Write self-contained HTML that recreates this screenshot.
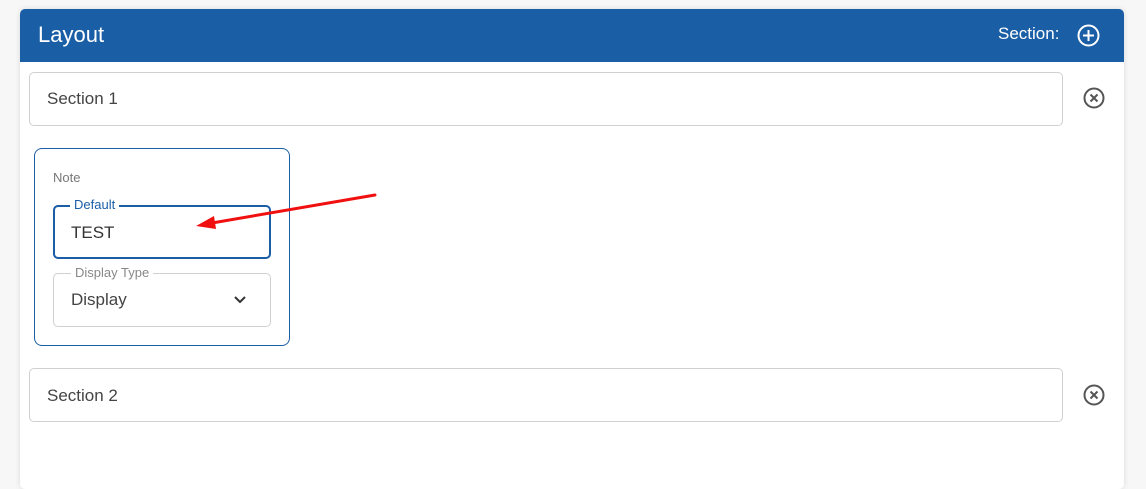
<!DOCTYPE html>
<html><head><style>
*{box-sizing:border-box;margin:0;padding:0}
body{width:1146px;height:473px;background:#f7f7f7;font-family:"Liberation Sans",sans-serif;position:relative;overflow:hidden}
.card{position:absolute;left:20px;top:9px;width:1104px;height:480px;background:#fff;border-radius:5px;box-shadow:0 0 6px rgba(0,0,0,.12);overflow:hidden}
.hdr{position:absolute;left:0;top:0;width:100%;height:53px;background:#1a5ea6;color:#fff}
.abs{position:absolute}
.box{position:absolute;border:1px solid #d0d0d0;border-radius:5px;background:#fff}
.t{position:absolute;color:#444;font-size:17px}
</style></head><body>
<div class="card">
<div class="hdr">
<div class="abs" style="left:18px;top:13px;font-size:22px">Layout</div>
<div class="abs" style="left:978px;top:15px;font-size:17px">Section:</div>
<svg class="abs" style="left:1056px;top:14px" width="25" height="25"><circle cx="12.5" cy="12.5" r="10" fill="none" stroke="#fff" stroke-width="2"/><path d="M12.5 7v11M7 12.5h11" stroke="#fff" stroke-width="2"/></svg>
</div>
</div>
<div class="box" style="left:29px;top:72px;width:1034px;height:54px"></div>
<div class="t" style="left:47px;top:89px">Section 1</div>
<svg class="abs" style="left:1082px;top:86px" width="24" height="24"><circle cx="12" cy="12" r="9.5" fill="none" stroke="#555" stroke-width="2"/><path d="M8.5 8.5l7 7M15.5 8.5l-7 7" stroke="#555" stroke-width="2"/></svg>
<div class="box" style="left:34px;top:148px;width:256px;height:198px;border-color:#1a5ea6;border-radius:8px"></div>
<div class="abs" style="left:53px;top:170px;font-size:13px;color:#777">Note</div>
<div class="box" style="left:53px;top:205px;width:218px;height:54px;border:2px solid #1a5ea6"></div>
<div class="abs" style="left:70px;top:197px;background:#fff;padding:0 4px;font-size:13px;color:#1a5ea6">Default</div>
<div class="t" style="left:71px;top:223px;color:#333">TEST</div>
<div class="box" style="left:53px;top:273px;width:218px;height:54px"></div>
<div class="abs" style="left:71px;top:265px;background:#fff;padding:0 4px;font-size:13px;color:#888">Display Type</div>
<div class="t" style="left:71px;top:290px">Display</div>
<svg class="abs" style="left:232px;top:293px" width="16" height="14"><path d="M3 4l5 5 5-5" fill="none" stroke="#333" stroke-width="2"/></svg>
<div class="box" style="left:29px;top:368px;width:1034px;height:54px"></div>
<div class="t" style="left:47px;top:386px">Section 2</div>
<svg class="abs" style="left:1082px;top:383px" width="24" height="24"><circle cx="12" cy="12" r="9.5" fill="none" stroke="#555" stroke-width="2"/><path d="M8.5 8.5l7 7M15.5 8.5l-7 7" stroke="#555" stroke-width="2"/></svg>
<svg class="abs" style="left:0;top:0" width="1146" height="473"><line x1="375" y1="195" x2="212" y2="223" stroke="#f01010" stroke-width="3" stroke-linecap="round"/><path d="M196 226L214 216L216 229Z" fill="#f01010"/></svg>
</body></html>
